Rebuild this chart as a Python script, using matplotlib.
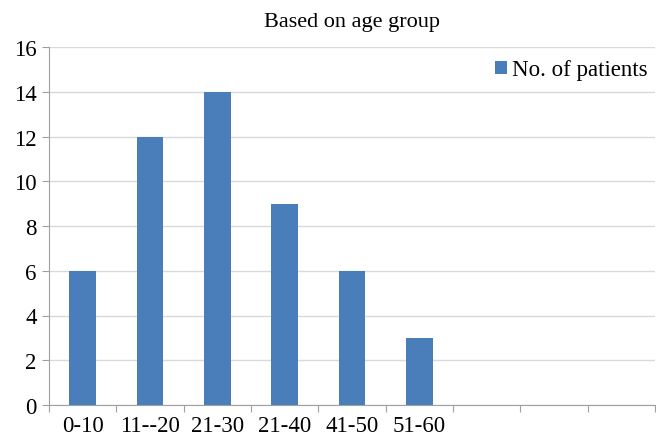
import numpy as np
import matplotlib.pyplot as plt

plt.rcParams['font.family'] = ['Liberation Serif', 'DejaVu Serif']

# age groups (three trailing empty slots on the axis)
groups = ['0-10', '11--20', '21-30', '21-40', '41-50', '51-60', '', '', '']
patients = [6, 12, 14, 9, 6, 3]
y_ticks = [0, 2, 4, 6, 8, 10, 12, 14, 16]


def main():
    fig = plt.figure(figsize=(6.56, 4.39), dpi=100)
    ax = fig.add_axes([49 / 656, 1 - 406 / 439, 606 / 656, 358 / 439])

    n = len(groups)
    x = np.arange(len(patients))
    ax.bar(x + 0.5, patients, width=0.4, color='#4a7ebb', label='No. of patients', zorder=3)

    ax.set_xlim(0, n)
    ax.set_ylim(0, 16)
    ax.set_yticks(y_ticks)
    ax.set_yticklabels([str(v) for v in y_ticks], fontsize=16.5)

    # category ticks sit on the slot boundaries, labels in the middle
    ax.set_xticks(np.arange(n + 1))
    ax.set_xticklabels([])
    ax.set_xticks(np.arange(n) + 0.5, minor=True)
    ax.set_xticklabels(groups, minor=True, fontsize=16.5)
    ax.tick_params(axis='x', which='minor', length=0, pad=7)
    ax.tick_params(axis='x', which='major', length=5, color='#a0a0a0')
    ax.tick_params(axis='y', length=5, color='#a0a0a0', pad=4)

    ax.yaxis.grid(True, color='#d9d9d9', linewidth=1, zorder=0)
    for side in ['top', 'right']:
        ax.spines[side].set_visible(False)
    ax.spines['left'].set_color('#a0a0a0')
    ax.spines['bottom'].set_color('#a0a0a0')

    ax.set_title('Based on age group', fontsize=16, pad=15)
    ax.legend(loc='upper right', bbox_to_anchor=(1.015, 1.01), frameon=False, fontsize=16.5,
              handlelength=0.5, handleheight=0.5, handletextpad=0.25, borderaxespad=0.3)

    plt.savefig('out.png', dpi=100)
    plt.close()


if __name__ == "__main__":
    main()
